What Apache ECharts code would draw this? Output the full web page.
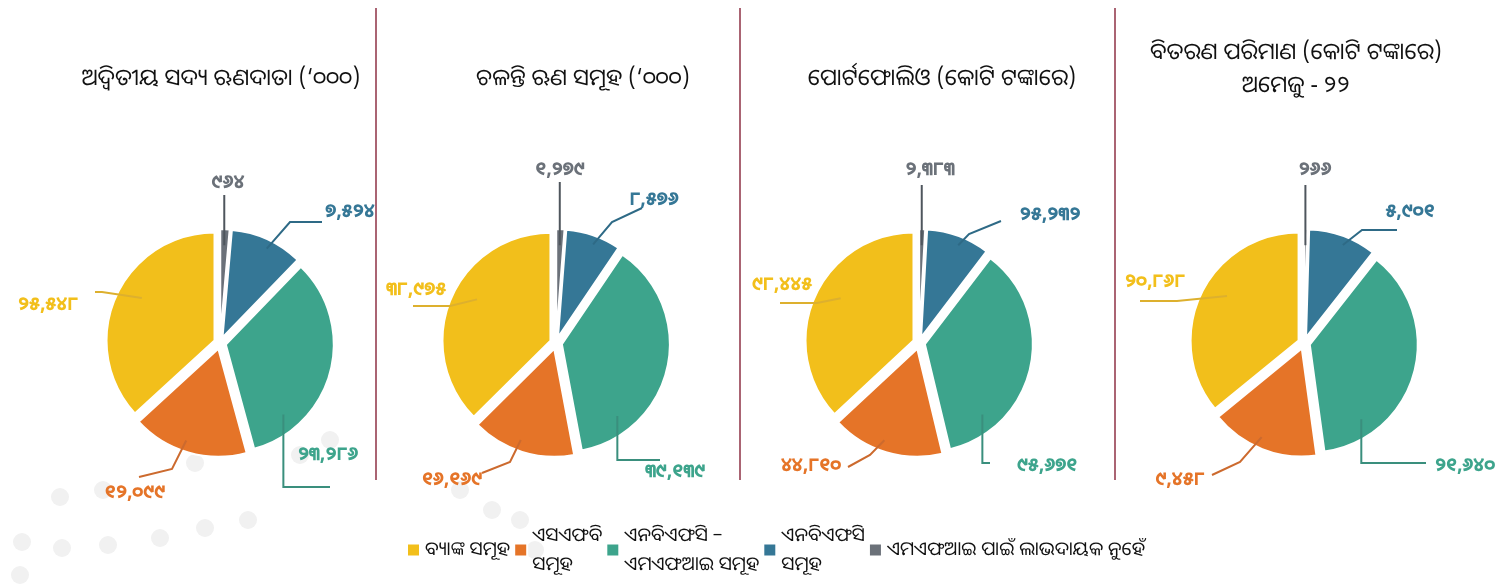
<!DOCTYPE html>
<html>
<head>
<meta charset="utf-8">
<script src="https://cdn.jsdelivr.net/npm/echarts@6/dist/echarts.min.js"></script>
<style>
html, body { margin: 0; padding: 0; background: #fff; }
#chart { width: 1498px; height: 586px; }
</style>
</head>
<body>
<div id="chart"></div>
<script>
// data
var categories = ['ବ୍ୟାଙ୍କ ସମୂହ', 'ଏସଏଫବି ସମୂହ', 'ଏନବିଏଫସି – ଏମଏଫଆଇ ସମୂହ', 'ଏନବିଏଫସି ସମୂହ', 'ଏମଏଫଆଇ ପାଇଁ ଲାଭଦାୟକ ନୁହେଁ'];
var legendLabels = ['ବ୍ୟାଙ୍କ ସମୂହ', 'ଏସଏଫବି\nସମୂହ', 'ଏନବିଏଫସି –\nଏମଏଫଆଇ ସମୂହ', 'ଏନବିଏଫସି\nସମୂହ', 'ଏମଏଫଆଇ ପାଇଁ ଲାଭଦାୟକ ନୁହେଁ'];
var titles = [
    'ଅଦ୍ୱିତୀୟ ସଦ୍ୟ ଋଣଦାତା (‘୦୦୦)',
    'ଚଳନ୍ତି ଋଣ ସମୂହ (‘୦୦୦)',
    'ପୋର୍ଟଫୋଲିଓ (କୋଟି ଟଙ୍କାରେ)',
    'ବିତରଣ ପରିମାଣ (କୋଟି ଟଙ୍କାରେ)\nଅମେଜୁ - ୨୨'
];
var borrowers = [25548, 12099, 23286, 7524, 964];
var loanAccounts = [38975, 16169, 39139, 8576, 1279];
var portfolio = [98445, 44810, 95671, 25232, 2383];
var disbursement = [20868, 9458, 21640, 5901, 266];
var allSeries = [borrowers, loanAccounts, portfolio, disbursement];

var colors = ['#F2BF1B', '#E57428', '#3DA48C', '#357796', '#6B7179'];
var lineColors = ['#DDB02E', '#CC6A2E', '#3A8F7D', '#2E6A86', '#4F565D'];
var font = '"Noto Sans Oriya", "Noto Sans", sans-serif';
var labelFont = 'bold 19px ' + font;
var odiaDigits = '୦୧୨୩୪୫୬୭୮୯';

// layout
var pieCenters = [220, 556, 919, 1304];
var pieCenterY = 343;
var pieRadius = 108;
var explode = 6;
// per pie, per slice, relative to pie centre:
// [label x, label y, line start x, line start y, elbow x, elbow y]
var labelPlaces = [
    [[-172, -38, -125, -51, -118, -51], [-85, 150, -81, 134, -48, 126], [108, 112, 110, 144, 0, 144],
     [130, -131, 102, -121, 70, -121], [8, -160, 0, -148, 0, -148]],
    [[-140, -53, -143, -37, -106, -37], [-104, 137, -74, 130, -46, 119], [119, 129, 104, 117, 0, 117],
     [98, -143, 86, -135, 56, -121], [4, -173, 0, -161, 0, -161]],
    [[-137, -58, -139, -40, -102, -40], [-108, 123, -71, 124, -49, 112], [128, 123, 71, 120, 0, 120],
     [131, -128, 82, -122, 50, -109], [11, -173, 0, -158, 0, -158]],
    [[-149, -61, -164, -42, -127, -42], [-124, 137, -92, 132, -64, 119], [161, 123, 122, 120, 0, 120],
     [106, -131, 93, -113, 58, -113], [11, -173, 0, -158, 0, -158]]
];
// where the leader line enters each slice: fraction along the arc, fraction of radius
var anchorAt = [[0.45, 0.78], [0.45, 0.9], [0.2, 0.84], [0.45, 0.92], [0.5, 0.85]];
var titleCenters = [216, 578, 937, 1291];
var separators = [376, 740, 1115];
var dots = [[60, 497], [22, 542], [62, 548], [108, 545], [160, 538], [205, 528], [248, 520],
            [300, 455], [330, 440], [103, 490], [195, 463], [460, 490], [492, 510], [520, 520], [535, 550], [20, 575]];

function toOdia(v) {
    var s = String(v).replace(/\B(?=(\d{3})+(?!\d))/g, ',');
    return s.replace(/[0-9]/g, function (d) { return odiaDigits[+d]; });
}

function makePie(values, idx) {
    return {
        type: 'pie',
        radius: pieRadius,
        center: [pieCenters[idx], pieCenterY],
        startAngle: 90,
        clockwise: false,
        selectedMode: 'multiple',
        selectedOffset: explode,
        itemStyle: { borderColor: '#fff', borderWidth: 2 },
        emphasis: { disabled: true },
        label: { show: false },
        labelLine: { show: false },
        data: values.map(function (v, i) {
            return { name: categories[i], value: v, selected: true };
        })
    };
}

var chart = echarts.init(document.getElementById('chart'));
chart.setOption({
    color: colors,
    animation: false,
    title: titles.map(function (t, i) {
        return {
            text: t,
            left: titleCenters[i],
            top: i === 3 ? 31 : 57,
            textAlign: 'center',
            textStyle: { fontFamily: font, fontSize: 23, fontWeight: 'normal', color: '#111', lineHeight: 33 }
        };
    }),
    legend: {
        top: 516,
        left: 401,
        itemWidth: 13,
        itemHeight: 13,
        itemGap: 3,
        icon: 'rect',
        selectedMode: false,
        data: categories,
        formatter: function (name) { return legendLabels[categories.indexOf(name)]; },
        textStyle: { fontFamily: font, fontSize: 19, color: '#111', lineHeight: 29 }
    },
    series: allSeries.map(makePie)
});

// value labels with Excel-style leader lines; the line end inside each slice comes from the pie layout
var graphics = separators.map(function (x) {
    return { type: 'line', shape: { x1: x, y1: 8, x2: x, y2: 480 }, style: { stroke: '#8E3145', lineWidth: 1.5 } };
}).concat(dots.map(function (d) {
    return { type: 'circle', z: -10, shape: { cx: d[0], cy: d[1], r: 9 }, style: { fill: '#F1F1F1' } };
}));

allSeries.forEach(function (values, s) {
    var data = chart.getModel().getSeriesByIndex(s).getData();
    values.forEach(function (v, j) {
        var lay = data.getItemLayout(j);
        var mid = (lay.startAngle + lay.endAngle) / 2;
        var a = lay.startAngle + anchorAt[j][0] * (lay.endAngle - lay.startAngle);
        var rr = lay.r * anchorAt[j][1];
        var ax = lay.cx + Math.cos(mid) * explode + Math.cos(a) * rr;
        var ay = lay.cy + Math.sin(mid) * explode + Math.sin(a) * rr;
        var p = labelPlaces[s][j];
        var start = [lay.cx + p[2], lay.cy + p[3]];
        var elbow = [lay.cx + p[4], lay.cy + p[5]];
        if (j === 2 || j === 4) {
            // vertical drop out of the slice
            elbow[0] = ax;
            if (j === 4) start[0] = ax;
        }
        graphics.push({
            type: 'polyline', z: 10, shape: { points: [start, elbow, [ax, ay]] },
            style: { stroke: lineColors[j], lineWidth: 2, fill: null }
        });
        graphics.push({
            type: 'text', z: 11, x: lay.cx + p[0], y: lay.cy + p[1],
            style: { text: toOdia(v), font: labelFont, fill: colors[j], align: 'center', verticalAlign: 'middle',
                     textAlign: 'center', textVerticalAlign: 'middle' }
        });
    });
});

chart.setOption({ graphic: graphics });
</script>
</body>
</html>
